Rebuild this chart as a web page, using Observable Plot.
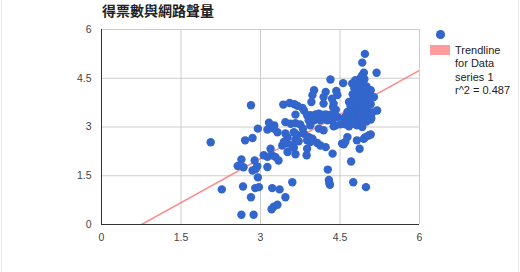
<!DOCTYPE html>
<html>
<head>
<meta charset="utf-8">
<script src="https://cdn.jsdelivr.net/npm/d3@7"></script>
<script src="https://cdn.jsdelivr.net/npm/@observablehq/plot@0.6"></script>
<style>
  body { margin: 0; background: #fff; }
  #chart { position: relative; width: 520px; height: 272px; overflow: hidden;
           font-family: "Liberation Sans", Arial, sans-serif; }
  #chart svg { position: absolute; left: 0; top: 0; }
  #title { position: absolute; left: 102px; top: 0px; line-height: 15px;
           font: bold 14px "Noto Sans CJK TC", sans-serif; color: #222; white-space: nowrap; }
  #legend { position: absolute; left: 430px; top: 29px; font-size: 11px; color: #222; }
  #legend .dot { position: absolute; left: 6px; top: 1px; width: 8.5px; height: 8.5px;
                 border-radius: 50%; background: #3366cc; }
  #legend .swatch { position: absolute; left: 0; top: 16px; width: 20px; height: 10px; background: #ff9b9b; }
  #legend .text { position: absolute; left: 25px; top: 15px; line-height: 13.4px; white-space: nowrap; }
  .edge { position: absolute; top: 0; width: 1px; height: 272px; background: #e6e6e6; }
</style>
</head>
<body>
<div id="chart">
  <div class="edge" style="left:1px"></div>
  <div class="edge" style="left:518px"></div>
  <div id="title"></div>
  <div id="legend">
    <div class="dot"></div>
    <div class="swatch"></div>
    <div class="text"></div>
  </div>
</div>
<script>
const title = "得票數與網路聲量";
const seriesName = "Data series 1";

// Scatter values (x, y) for each observation
const xs = [
  2.06,2.27,2.64,2.87,2.67,2.90,2.97,2.82,3.22,3.36,
  3.47,3.21,3.25,3.32,3.60,2.64,2.57,2.68,2.89,2.94,
  2.91,2.85,2.95,3.13,3.06,3.13,3.21,3.28,3.34,3.19,
  2.71,2.85,2.95,2.82,3.16,3.20,3.13,3.25,3.32,3.26,
  3.43,3.55,3.64,3.70,3.79,3.82,3.66,3.47,3.57,3.66,
  3.75,3.47,3.51,3.63,3.69,3.66,3.72,3.44,3.41,3.51,
  3.51,3.60,3.63,3.66,3.88,3.91,3.98,3.94,4.07,4.13,
  4.23,3.88,3.87,4.36,4.27,4.29,4.30,4.31,4.54,4.60,
  4.64,4.57,4.82,4.87,4.95,4.98,5.04,5.08,4.71,4.75,
  4.99,3.96,3.98,4.01,4.23,4.19,4.43,4.45,4.35,4.38,
  4.37,4.42,4.19,4.32,4.56,3.94,4.04,4.10,4.16,4.23,
  4.32,4.38,4.45,3.88,3.91,4.01,4.13,4.26,4.35,3.94,
  4.10,4.19,4.38,4.42,4.51,4.60,4.67,3.80,3.82,4.76,
  4.82,4.92,5.08,4.97,4.92,5.19,4.95,4.92,4.89,4.73,
  4.67,4.64,4.60,4.57,5.14,5.20,
  4.79,4.85,4.92,5.00,4.77,4.89,4.98,5.08,4.74,4.83,
  4.92,5.04,4.79,4.89,4.98,5.08,4.70,4.81,4.91,5.02,
  5.11,4.75,4.85,4.94,5.04,4.72,4.81,4.91,5.00,4.77,
  4.96,5.04,4.87,4.74,4.83,4.94,4.68,5.09,4.64,4.89
];
const ys = [
  2.53,1.08,0.30,0.30,1.17,1.12,1.15,0.84,1.12,1.08,
  0.84,0.47,0.55,0.61,1.30,2.00,1.80,1.76,1.97,1.79,
  1.71,1.66,1.45,1.77,2.13,2.08,2.13,2.08,1.97,2.33,
  2.59,2.66,2.95,3.67,3.13,3.02,2.92,2.95,2.84,3.05,
  3.69,3.74,3.70,3.65,3.59,3.51,3.38,3.15,3.10,3.12,
  3.08,2.80,2.68,2.84,2.76,2.62,2.56,2.54,2.43,2.49,
  2.23,2.43,2.36,2.16,2.59,2.69,2.64,2.54,2.51,2.43,
  2.38,2.33,2.13,2.18,1.69,1.37,1.27,1.22,2.49,2.54,
  2.69,2.47,2.59,2.33,2.64,2.69,2.74,2.77,1.94,1.30,
  1.15,3.77,3.98,4.13,4.08,3.92,4.11,3.98,3.87,3.72,
  3.61,3.53,3.72,4.46,4.35,3.36,3.39,3.41,3.38,3.39,
  3.38,3.34,3.31,3.36,3.21,3.21,3.21,3.21,3.21,3.05,
  2.95,2.90,3.02,3.05,3.08,3.08,3.02,2.95,2.79,3.10,
  3.05,3.00,3.23,5.25,4.98,4.67,4.67,4.59,4.52,4.34,
  3.77,3.46,3.31,3.26,3.92,3.51,
  4.44,4.31,4.38,4.25,4.19,4.13,4.07,4.13,4.01,3.94,
  3.91,3.85,3.79,3.73,3.70,3.70,3.64,3.57,3.54,3.51,
  3.45,3.42,3.39,3.36,3.33,3.24,3.27,3.20,3.17,3.14,
  4.47,4.01,3.48,3.82,4.10,4.19,3.33,3.27,3.17,3.30
];

// Axis ticks
const xTicks = [0, 1.5, 3, 4.5, 6];
const yTicks = [0, 1.5, 3, 4.5, 6];

// Linear trendline fitted to the series
const trendSlope = [0.904];
const trendIntercept = [-0.683];
const trendR2 = [0.487];

const points = xs.map((x, i) => ({x, y: ys[i]}));
const trend = d3.extent(xTicks).map(x => ({x, y: trendSlope[0] * x + trendIntercept[0]}));
const fmt = d => String(d);

const chart = Plot.plot({
  width: 520,
  height: 272,
  marginLeft: 101,
  marginRight: 101,
  marginTop: 29,
  marginBottom: 48,
  style: {fontFamily: "'Liberation Sans', Arial, sans-serif", fontSize: "10.5px", background: "transparent", overflow: "visible"},
  x: {domain: d3.extent(xTicks)},
  y: {domain: d3.extent(yTicks)},
  marks: [
    Plot.gridX(xTicks, {stroke: "#cccccc", strokeOpacity: 1}),
    Plot.gridY(yTicks, {stroke: "#cccccc", strokeOpacity: 1}),
    Plot.axisX(xTicks, {tickSize: 0, tickPadding: 9, fill: "#444", label: null, tickFormat: fmt}),
    Plot.axisY(yTicks, {tickSize: 0, tickPadding: 10, fill: "#444", label: null, tickFormat: fmt}),
    Plot.line(trend, {x: "x", y: "y", stroke: "#ff6666", strokeOpacity: 0.75, strokeWidth: 1.6, clip: true}),
    Plot.dot(points, {x: "x", y: "y", r: 4.2, fill: "#3366cc"}),
    Plot.ruleX([0], {stroke: "#333"}),
    Plot.ruleY([0], {stroke: "#333"})
  ]
});

const root = document.getElementById("chart");
root.insertBefore(chart, root.firstChild);
document.getElementById("title").textContent = title;
document.querySelector("#legend .text").innerHTML =
  ["Trendline", "for " + seriesName.split(" ")[0], seriesName.split(" ").slice(1).join(" "),
   "r^2 = " + trendR2[0]].join("<br>");
</script>
</body>
</html>
